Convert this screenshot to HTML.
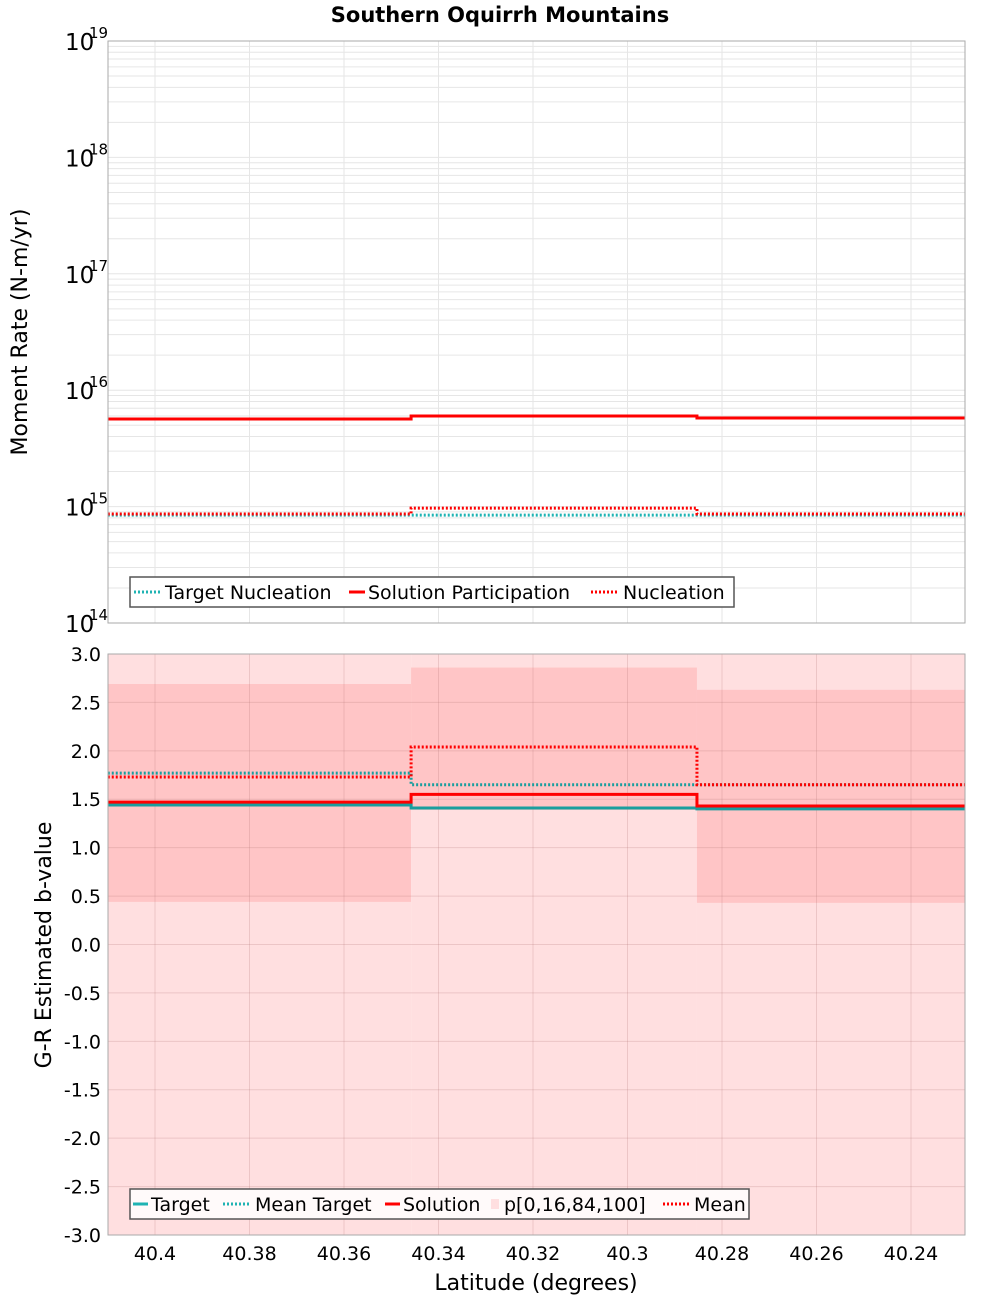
<!DOCTYPE html>
<html><head><meta charset="utf-8"><style>
body{margin:0;background:#fff;}
svg text{font-family:"DejaVu Sans","Liberation Sans",sans-serif;}
</style></head><body>
<svg id="chart" width="1000" height="1300" xmlns="http://www.w3.org/2000/svg">
<text x="500" y="22" text-anchor="middle" font-size="21" font-weight="bold">Southern Oquirrh Mountains</text>
<g id="topPanel"></g>
<g id="botPanel"></g>
</svg>
<script>
const binEdges=[40.41,40.3458,40.2853,40.2286];
const xTicks=[40.4,40.38,40.36,40.34,40.32,40.3,40.28,40.26,40.24];
const solPart=[5.66e15,6.0e15,5.77e15];
const nucl=[8.63e14,9.7e14,8.63e14];
const targetNucl=[8.45e14,8.45e14,8.45e14];
const bTarget=[1.44,1.41,1.40];
const bMeanTarget=[1.77,1.65,1.65];
const bSolution=[1.47,1.55,1.43];
const bMean=[1.73,2.04,1.65];
const p0=[-3,-3,-3];
const p16=[0.44,1.39,0.43];
const p84=[2.69,2.86,2.63];
const p100=[3,3,3];
const bTicks=[3,2.5,2,1.5,1,0.5,0,-0.5,-1,-1.5,-2,-2.5,-3];

{
const NS='http://www.w3.org/2000/svg';
const L=108,R=965;
const xs=v=>155+(40.4-v)*4725;
const yT=v=>41+(19-Math.log10(v))*116.4;
const yB=v=>654+(3-v)*96.83;
function mk(p,tag,at,txt){const e=document.createElementNS(NS,tag);for(const k in at)e.setAttribute(k,at[k]);if(txt!==undefined)e.textContent=txt;p.appendChild(e);return e;}
const topG=document.getElementById('topPanel'),botG=document.getElementById('botPanel');

mk(topG,'rect',{x:L,y:41,width:R-L,height:582,fill:'#fff'});
for(let d=14;d<19;d++)for(let m=1;m<10;m++){const yy=yT(m*Math.pow(10,d));
 const g=mk(topG,'line',{x1:L,x2:R,y1:yy,y2:yy,stroke:'#e6e6e6','stroke-width':1});
 
 }
xTicks.forEach(t=>{const g=mk(topG,'line',{x1:xs(t),x2:xs(t),y1:41,y2:623,stroke:'#e6e6e6'});
 
 });
for(let d=14;d<=19;d++){const yy=yT(Math.pow(10,d));
 const t=mk(topG,'text',{x:65,y:yy+9,'font-size':23},'10');
 
 
 mk(topG,'text',{x:89,y:yy-3,'font-size':15},String(d));}
const yl=mk(topG,'text',{transform:'translate(27,332) rotate(-90)','text-anchor':'middle','font-size':22},'Moment Rate (N-m/yr)');


function step(p,arr,yf,color,w,dash,name){let d='';for(let i=0;i<3;i++){const y0=yf(arr[i]);d+=(i?'L':'M')+xs(binEdges[i])+','+y0+'L'+xs(binEdges[i+1])+','+y0;}
 const a={d:d,fill:'none',stroke:color,'stroke-width':w};if(dash)a['stroke-dasharray']=dash;const e=mk(p,'path',a);
 
 }
step(topG,targetNucl,yT,'#1fb3b3',3,'2,2','target-nucleation-line');
step(topG,solPart,yT,'#f00',3,null,'solution-participation-line');
step(topG,nucl,yT,'#f00',3,'2,2','nucleation-line');
mk(topG,'rect',{x:L,y:41,width:R-L,height:582,fill:'none',stroke:'#aaa'});
const lg1=mk(topG,'g',{});


mk(lg1,'rect',{x:130,y:577,width:604,height:30,fill:'#fff',stroke:'#555','stroke-width':1.5});
mk(lg1,'line',{x1:134,x2:160,y1:592,y2:592,stroke:'#1fb3b3','stroke-width':3,'stroke-dasharray':'2,2'});
mk(lg1,'text',{x:165,y:599,'font-size':19},'Target Nucleation');
mk(lg1,'line',{x1:349,x2:365,y1:592,y2:592,stroke:'#f00','stroke-width':3});
mk(lg1,'text',{x:368,y:599,'font-size':19},'Solution Participation');
mk(lg1,'line',{x1:591,x2:619,y1:592,y2:592,stroke:'#f00','stroke-width':3,'stroke-dasharray':'2,2'});
mk(lg1,'text',{x:623,y:599,'font-size':19},'Nucleation');

mk(botG,'rect',{x:L,y:654,width:R-L,height:581,fill:'#fff'});
for(let i=0;i<3;i++){
 const a=mk(botG,'rect',{x:xs(binEdges[i]),y:yB(p100[i]),width:xs(binEdges[i+1])-xs(binEdges[i]),height:yB(p0[i])-yB(p100[i]),fill:'#ffdfe0'});
 
 
 const b=mk(botG,'rect',{x:xs(binEdges[i]),y:yB(p84[i]),width:xs(binEdges[i+1])-xs(binEdges[i]),height:yB(p16[i])-yB(p84[i]),fill:'#ffc5c6'});
 
 }
bTicks.forEach(t=>{mk(botG,'line',{x1:L,x2:R,y1:yB(t),y2:yB(t),stroke:'rgba(180,120,120,0.25)'});
 const tl=mk(botG,'text',{x:101,y:yB(t)+7,'text-anchor':'end','font-size':19},t.toFixed(1));
 
 });
xTicks.forEach(t=>{mk(botG,'line',{x1:xs(t),x2:xs(t),y1:654,y2:1235,stroke:'rgba(180,120,120,0.25)'});
 const tl=mk(botG,'text',{x:xs(t),y:1260,'text-anchor':'middle','font-size':19},String(t));
 
 });
const yl2=mk(botG,'text',{transform:'translate(51,945) rotate(-90)','text-anchor':'middle','font-size':22},'G-R Estimated b-value');


const xl=mk(botG,'text',{x:536,y:1290,'text-anchor':'middle','font-size':22},'Latitude (degrees)');


step(botG,bTarget,yB,'#1a9e9e',3,null,'target-line');
step(botG,bMeanTarget,yB,'#1a9e9e',3,'2,2','mean-target-line');
step(botG,bSolution,yB,'#f00',3,null,'solution-line');
step(botG,bMean,yB,'#f00',3,'2,2','mean-line');
mk(botG,'rect',{x:L,y:654,width:R-L,height:581,fill:'none',stroke:'#aaa'});
const lg2=mk(botG,'g',{});


mk(lg2,'rect',{x:130,y:1189,width:619,height:30,fill:'#fffafa',stroke:'#555','stroke-width':1.5});
mk(lg2,'line',{x1:133,x2:148,y1:1204,y2:1204,stroke:'#1fb3b3','stroke-width':3});
mk(lg2,'text',{x:151,y:1211,'font-size':19},'Target');
mk(lg2,'line',{x1:223,x2:250,y1:1204,y2:1204,stroke:'#1fb3b3','stroke-width':3,'stroke-dasharray':'2,2'});
mk(lg2,'text',{x:255,y:1211,'font-size':19},'Mean Target');
mk(lg2,'line',{x1:385,x2:400,y1:1204,y2:1204,stroke:'#f00','stroke-width':3});
mk(lg2,'text',{x:403,y:1211,'font-size':19},'Solution');
mk(lg2,'rect',{x:491,y:1199,width:8,height:10,fill:'#ffdfe0'});
mk(lg2,'text',{x:504,y:1211,'font-size':19},'p[0,16,84,100]');
mk(lg2,'line',{x1:663,x2:690,y1:1204,y2:1204,stroke:'#f00','stroke-width':3,'stroke-dasharray':'2,2'});
mk(lg2,'text',{x:694,y:1211,'font-size':19},'Mean');
}
</script>
</body></html>
